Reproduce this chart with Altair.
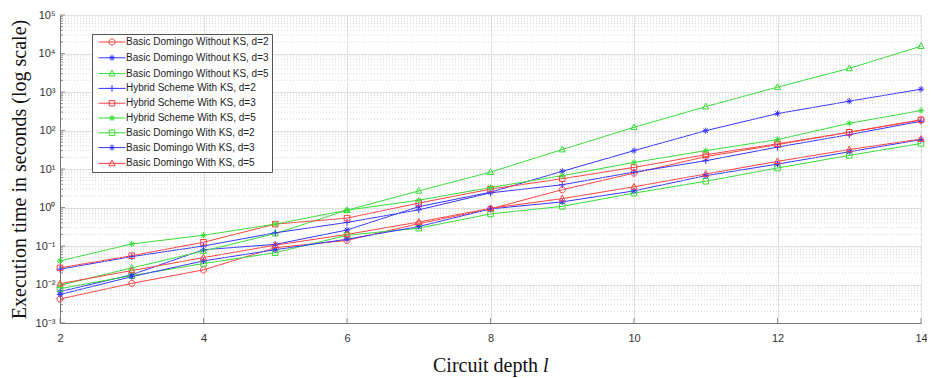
import altair as alt
import pandas as pd
import json

# ---------------- data ----------------
depth = [2, 3, 4, 5, 6, 7, 8, 9, 10, 11, 12, 13, 14]

series_names = [
    "Basic Domingo Without KS, d=2",
    "Basic Domingo Without KS, d=3",
    "Basic Domingo Without KS, d=5",
    "Hybrid Scheme With KS, d=2",
    "Hybrid Scheme With KS, d=3",
    "Hybrid Scheme With KS, d=5",
    "Basic Domingo With KS, d=2",
    "Basic Domingo With KS, d=3",
    "Basic Domingo With KS, d=5",
]

without_ks_d2 = [0.0042, 0.0107, 0.024, 0.09, 0.14, 0.38, 0.92, 2.9, 7.8, 21, 43, 90, 188]
without_ks_d3 = [0.0065, 0.018, 0.08, 0.11, 0.26, 1.05, 2.5, 8.7, 30, 99, 275, 577, 1180]
without_ks_d5 = [0.0095, 0.027, 0.074, 0.21, 0.85, 2.7, 8.3, 32, 121, 417, 1340, 4100, 15500]
hybrid_d2 = [0.025, 0.053, 0.10, 0.22, 0.41, 0.87, 2.4, 3.9, 8.3, 16.4, 37, 78, 174]
hybrid_d3 = [0.027, 0.056, 0.125, 0.37, 0.53, 1.3, 3.0, 5.6, 11, 23.5, 45, 90, 188]
hybrid_d5 = [0.041, 0.113, 0.19, 0.37, 0.85, 1.55, 3.3, 6.7, 14.8, 30, 58, 154, 330]
with_ks_d2 = [0.0078, 0.017, 0.035, 0.067, 0.19, 0.29, 0.68, 1.07, 2.36, 4.8, 10.6, 22.6, 46]
with_ks_d3 = [0.0055, 0.016, 0.041, 0.08, 0.15, 0.32, 0.92, 1.4, 2.7, 6.7, 13.4, 28, 58]
with_ks_d5 = [0.0105, 0.023, 0.05, 0.105, 0.20, 0.42, 0.95, 1.7, 3.45, 7.4, 15.8, 32, 60]

series_values = [without_ks_d2, without_ks_d3, without_ks_d5,
                 hybrid_d2, hybrid_d3, hybrid_d5,
                 with_ks_d2, with_ks_d3, with_ks_d5]

x_ticks = [2, 4, 6, 8, 10, 12, 14]
y_decades = [1e-3, 1e-2, 1e-1, 1e0, 1e1, 1e2, 1e3, 1e4, 1e5]
y_tick_exponents = ["⁻³", "⁻²", "⁻¹", "⁰", "¹", "²", "³", "⁴", "⁵"]
y_minor = [m * 10.0 ** e for e in range(-3, 5) for m in range(2, 10)]

x_title_text = "Circuit depth"
x_title_var = "l"
y_title = "Execution time in seconds (log scale)"

# ---------------- styling ----------------
RED, BLUE, GREEN = "#ff4040", "#3535ff", "#35dd35"
series_colors = [RED, BLUE, GREEN, BLUE, RED, GREEN, GREEN, BLUE, RED]

CIRCLE = "M-1,0A1,1 0 1,0 1,0A1,1 0 1,0 -1,0"
SQUARE = "M-0.9,-0.9L0.9,-0.9L0.9,0.9L-0.9,0.9Z"
TRI = "M0,-1.1L1,0.75L-1,0.75Z"
PLUS = "M-1.1,0L1.1,0M0,-1.1L0,1.1"
STAR = "M-1,0L1,0M0,-1L0,1M-0.7,-0.7L0.7,0.7M-0.7,0.7L0.7,-0.7"
marker_paths = [CIRCLE, STAR, TRI, PLUS, SQUARE, STAR, SQUARE, STAR, TRI]
LINE_FULL = "M-4.4,0L4.4,0"
legend_paths = [LINE_FULL + p for p in marker_paths]

rows = []
for name, vals in zip(series_names, series_values):
    for d, v in zip(depth, vals):
        rows.append({"series": name, "depth": d, "time": v})
df = pd.DataFrame(rows)

W, H = 861, 308
xscale = alt.Scale(domain=[2, 14], nice=False, zero=False)
yscale = alt.Scale(type="log", domain=[1e-3, 1e5], nice=False)

label_expr = "'10' + " + json.dumps(y_tick_exponents, ensure_ascii=False) + "[round(log(datum.value)/LN10)+3]"

xaxis = alt.Axis(values=x_ticks, grid=True, gridColor="#e2e2e2", domainColor="#777",
                 ticks=False, labelPadding=9, labelFont="Liberation Sans", labelFlush=False,
                 labelFontSize=11, labelColor="#333", title="")
yaxis = alt.Axis(values=y_decades, labelExpr=label_expr, grid=True, gridColor="#e2e2e2",
                 domainColor="#777", ticks=False, labelPadding=5, labelFlush=False,
                 labelFont="Liberation Sans", labelFontSize=11, labelColor="#333",
                 title=y_title, titleFont="Liberation Serif", titleFontSize=20,
                 titleFontWeight="normal", titleColor="#111", titlePadding=6)

cscale = alt.Scale(domain=series_names, range=series_colors)

minor_df = pd.DataFrame({"v": y_minor})
major_df = pd.DataFrame({"v": y_decades})
xt_df = pd.DataFrame({"t": x_ticks})


def X(field):
    return alt.X(field, scale=xscale, axis=xaxis)


def Y(field):
    return alt.Y(field, scale=yscale, axis=yaxis)


lines = alt.Chart(df).mark_line(strokeWidth=1).encode(
    x=X("depth:Q"), y=Y("time:Q"),
    color=alt.Color("series:N", scale=cscale, legend=None),
    detail="series:N",
)
minor_grid = alt.Chart(minor_df).mark_rule(strokeDash=[1, 2], color="#cfcfcf", strokeWidth=0.8).encode(
    y=Y("v:Q"))
minor_ticks = alt.Chart(minor_df).mark_rule(color="#777", strokeWidth=0.8).encode(
    y=Y("v:Q"), x=alt.value(0), x2=alt.value(3))
major_ticks = alt.Chart(major_df).mark_rule(color="#777", strokeWidth=0.8).encode(
    y=Y("v:Q"), x=alt.value(0), x2=alt.value(5))
x_ticks_in = alt.Chart(xt_df).mark_rule(color="#777", strokeWidth=0.8).encode(
    x=X("t:Q"), y=alt.value(H), y2=alt.value(H - 5))

points = alt.Chart(df).mark_point(filled=False, size=38, strokeWidth=1, opacity=1).encode(
    x=X("depth:Q"), y=Y("time:Q"),
    color=alt.Color("series:N", scale=cscale, legend=None),
    shape=alt.Shape("series:N", scale=alt.Scale(domain=series_names, range=marker_paths), legend=None),
)

legend = alt.Legend(title="", orient="none", legendX=32, legendY=19,
                    fillColor="white", strokeColor="#555", padding=3,
                    labelFont="Liberation Sans", labelFontSize=10, labelColor="#222",
                    symbolSize=38, symbolStrokeWidth=1, symbolOffset=12, labelOffset=9,
                    rowPadding=3.8, symbolOpacity=1, labelLimit=300)
legend_layer = alt.Chart(df).transform_filter("datum.depth < 0").mark_point(
    filled=False, size=38, strokeWidth=1).encode(
    x=X("depth:Q"), y=Y("time:Q"),
    color=alt.Color("series:N", scale=cscale, legend=legend),
    shape=alt.Shape("series:N", scale=alt.Scale(domain=series_names, range=legend_paths), legend=legend),
)

title_df = pd.DataFrame({"a": [x_title_text], "b": [x_title_var]})
xt1 = alt.Chart(title_df).mark_text(align="right", baseline="alphabetic", font="Liberation Serif",
                                    fontSize=20, color="#111").encode(
    text="a:N", x=alt.value(478), y=alt.value(357))
xt2 = alt.Chart(title_df).mark_text(align="left", baseline="alphabetic", font="Liberation Serif",
                                    fontSize=20, fontStyle="italic", color="#111").encode(
    text="b:N", x=alt.value(483), y=alt.value(357))

chart = alt.layer(lines, minor_grid, minor_ticks, major_ticks, x_ticks_in, points, legend_layer, xt1, xt2).resolve_scale(
    color="independent", shape="independent"
).properties(
    width=W, height=H,
    autosize=alt.AutoSizeParams(type="none"),
    padding={"left": 52, "top": 7, "right": 6, "bottom": 55},
).configure_view(stroke=None).configure(background="white")

chart.save("out.html", embed_options={"renderer": "svg", "actions": False})
